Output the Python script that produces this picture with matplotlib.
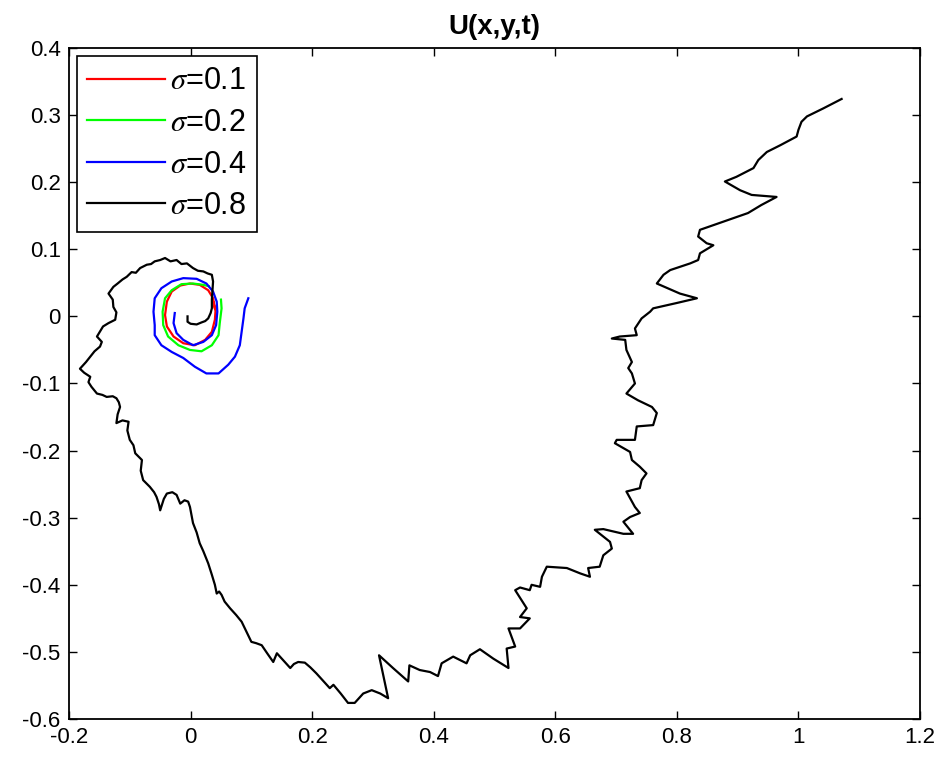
import matplotlib
matplotlib.use('Agg')
import matplotlib.pyplot as plt

# traced trajectories (x, y) for each sigma
x_s01 = [0.040, 0.037, 0.029, 0.015, -0.001, -0.017, -0.031, -0.039, -0.042, -0.039,
         -0.028, -0.012, 0.007, 0.024, 0.035, 0.040, 0.041, 0.038]
y_s01 = [0.012, 0.027, 0.039, 0.047, 0.049, 0.046, 0.037, 0.022, 0.002, -0.015,
         -0.030, -0.040, -0.043, -0.035, -0.023, -0.005, 0.008, 0.020]

x_s02 = [0.030, 0.021, 0.004, -0.015, -0.031, -0.042, -0.046, -0.045, -0.037, -0.020,
         -0.001, 0.018, 0.035, 0.046, 0.048, 0.051, 0.050]
y_s02 = [0.045, 0.047, 0.049, 0.048, 0.039, 0.027, 0.007, -0.013, -0.030, -0.043,
         -0.050, -0.052, -0.043, -0.028, -0.010, 0.012, 0.025]

x_s04 = [-0.026, -0.028, -0.023, -0.012, 0.004, 0.021, 0.035, 0.042, 0.044, 0.043,
         0.037, 0.026, 0.010, -0.012, -0.031, -0.048, -0.059, -0.061, -0.059, -0.059,
         -0.048, -0.031, -0.012, 0.007, 0.026, 0.046, 0.062, 0.073, 0.081, 0.084,
         0.087, 0.089, 0.095]
y_s04 = [0.005, -0.010, -0.025, -0.035, -0.043, -0.038, -0.028, -0.013, 0.007, 0.022,
         0.037, 0.049, 0.056, 0.057, 0.052, 0.042, 0.027, 0.007, -0.013, -0.028,
         -0.043, -0.053, -0.062, -0.075, -0.085, -0.085, -0.072, -0.060, -0.043, -0.023,
         -0.003, 0.012, 0.027]

x_s08 = [-0.005, -0.005, 0.0, 0.010, 0.018, 0.024, 0.029, 0.033, 0.035, 0.035, 0.036, 0.037,
         0.035, 0.028, 0.021, 0.012, 0.004, -0.006, -0.015, -0.023, -0.033, -0.042, -0.050,
         -0.059, -0.065, -0.072, -0.083, -0.090, -0.097, -0.105, -0.112, -0.120, -0.127,
         -0.135, -0.128, -0.127, -0.122, -0.124, -0.135, -0.144, -0.154, -0.146, -0.149,
         -0.158, -0.165, -0.172, -0.179, -0.182, -0.175, -0.165, -0.168, -0.163, -0.154,
         -0.145, -0.138, -0.128, -0.122, -0.118, -0.116, -0.120, -0.122, -0.112, -0.102,
         -0.104, -0.100, -0.094, -0.091, -0.080, -0.082, -0.078, -0.067, -0.060, -0.056,
         -0.052, -0.050, -0.044, -0.039, -0.030, -0.023, -0.017, -0.010, -0.004, -0.001,
         0.004, 0.010, 0.015, 0.021, 0.029, 0.035, 0.040, 0.043, 0.047, 0.051, 0.056,
         0.065, 0.075, 0.084, 0.092, 0.100, 0.108, 0.117, 0.126, 0.136, 0.142, 0.153,
         0.164, 0.170, 0.177, 0.188, 0.197, 0.207, 0.218, 0.229, 0.235, 0.247, 0.259,
         0.270, 0.284, 0.298, 0.312, 0.325, 0.310, 0.333, 0.358, 0.360, 0.377, 0.394,
         0.407, 0.413, 0.432, 0.454, 0.460, 0.476, 0.498, 0.523, 0.520, 0.534, 0.523,
         0.542, 0.558, 0.542, 0.553, 0.534, 0.542, 0.558, 0.561, 0.575, 0.578, 0.586,
         0.602, 0.619, 0.641, 0.657, 0.654, 0.673, 0.679, 0.693, 0.690, 0.665, 0.679,
         0.712, 0.728, 0.712, 0.723, 0.739, 0.731, 0.717, 0.739, 0.742, 0.750, 0.739,
         0.726, 0.723, 0.698, 0.701, 0.731, 0.734, 0.761, 0.767, 0.759, 0.736, 0.717,
         0.731, 0.726, 0.720, 0.726, 0.717, 0.715, 0.693, 0.706, 0.734, 0.731, 0.742,
         0.756, 0.761, 0.800, 0.833, 0.805, 0.767, 0.778, 0.789, 0.822, 0.835, 0.838,
         0.860, 0.849, 0.835, 0.838, 0.876, 0.917, 0.939, 0.964, 0.923, 0.904, 0.879,
         0.898, 0.926, 0.934, 0.948, 0.970, 0.997, 1.000, 1.005, 1.014, 1.041, 1.071]
y_s08 = [0.0, -0.008, -0.011, -0.012, -0.009, -0.007, -0.003, 0.005, 0.012, 0.025, 0.039, 0.052,
         0.062, 0.064, 0.067, 0.068, 0.072, 0.079, 0.078, 0.084, 0.082, 0.087, 0.084,
         0.082, 0.078, 0.077, 0.072, 0.065, 0.066, 0.059, 0.055, 0.049, 0.044,
         0.034, 0.025, 0.014, 0.006, -0.005, -0.010, -0.015, -0.030, -0.038, -0.045,
         -0.052, -0.060, -0.068, -0.075, -0.078, -0.084, -0.090, -0.098, -0.105, -0.115,
         -0.117, -0.120, -0.119, -0.122, -0.128, -0.135, -0.146, -0.159, -0.155, -0.157,
         -0.170, -0.184, -0.192, -0.204, -0.214, -0.230, -0.244, -0.254, -0.262, -0.269,
         -0.280, -0.289, -0.272, -0.264, -0.262, -0.266, -0.279, -0.274, -0.276, -0.284,
         -0.308, -0.322, -0.338, -0.350, -0.368, -0.385, -0.400, -0.413, -0.410, -0.415, -0.425,
         -0.435, -0.445, -0.455, -0.470, -0.485, -0.487, -0.490, -0.502, -0.515, -0.502, -0.513,
         -0.524, -0.518, -0.515, -0.516, -0.523, -0.532, -0.543, -0.554, -0.549, -0.562, -0.576,
         -0.576, -0.562, -0.557, -0.562, -0.569, -0.505, -0.524, -0.544, -0.520, -0.527, -0.530,
         -0.536, -0.517, -0.507, -0.517, -0.505, -0.496, -0.510, -0.524, -0.495, -0.492, -0.465,
         -0.465, -0.450, -0.448, -0.435, -0.408, -0.404, -0.408, -0.400, -0.403, -0.388, -0.373,
         -0.374, -0.375, -0.383, -0.388, -0.375, -0.373, -0.356, -0.346, -0.336, -0.318, -0.317,
         -0.324, -0.324, -0.306, -0.299, -0.293, -0.284, -0.261, -0.256, -0.244, -0.234, -0.224,
         -0.214, -0.202, -0.189, -0.184, -0.184, -0.164, -0.162, -0.144, -0.135, -0.125, -0.115,
         -0.100, -0.085, -0.077, -0.068, -0.050, -0.035, -0.033, -0.030, -0.028, -0.018, -0.003,
         0.007, 0.012, 0.020, 0.027, 0.034, 0.049, 0.062, 0.069, 0.079, 0.084, 0.094,
         0.106, 0.109, 0.119, 0.129, 0.141, 0.154, 0.166, 0.178, 0.181, 0.188, 0.201,
         0.208, 0.221, 0.233, 0.245, 0.255, 0.268, 0.278, 0.290, 0.298, 0.310, 0.324]

labels = [r'$\sigma$=0.1', r'$\sigma$=0.2', r'$\sigma$=0.4', r'$\sigma$=0.8']
colors = ['#ff0000', '#00ff00', '#0000ff', '#000000']

plt.rcParams['font.family'] = ['Liberation Sans', 'DejaVu Sans']
plt.rcParams['mathtext.fontset'] = 'stix'

fig = plt.figure(figsize=(9.53, 7.65), dpi=100)
ax = fig.add_axes([0.0724, 0.0601, 0.893, 0.8772])

series = [(x_s01, y_s01), (x_s02, y_s02), (x_s04, y_s04), (x_s08, y_s08)]
for (xs, ys), c, lab in zip(series, colors, labels):
    ax.plot(xs, ys, color=c, lw=1.6, label=lab)

ax.set_xlim(-0.2, 1.2)
ax.set_ylim(-0.6, 0.4)
ax.set_xticks([-0.2, 0, 0.2, 0.4, 0.6, 0.8, 1, 1.2])
ax.set_xticklabels(['-0.2', '0', '0.2', '0.4', '0.6', '0.8', '1', '1.2'])
ax.set_yticks([-0.6, -0.5, -0.4, -0.3, -0.2, -0.1, 0, 0.1, 0.2, 0.3, 0.4])
ax.set_yticklabels(['-0.6', '-0.5', '-0.4', '-0.3', '-0.2', '-0.1', '0', '0.1', '0.2', '0.3', '0.4'])
ax.tick_params(direction='in', top=True, right=True, length=6, width=1, labelsize=16, pad=6)
for s in ax.spines.values():
    s.set_linewidth(1.3)

ax.set_title('U(x,y,t)', fontsize=20, fontweight='bold', pad=10)

leg = ax.legend(loc='upper left', fontsize=22, handlelength=2.55, handletextpad=0.15,
                labelspacing=0.38, borderpad=0.35, borderaxespad=0.25, fancybox=False,
                framealpha=1, edgecolor='black')
leg.get_frame().set_linewidth(1.2)

plt.savefig('out.png', dpi=100)
